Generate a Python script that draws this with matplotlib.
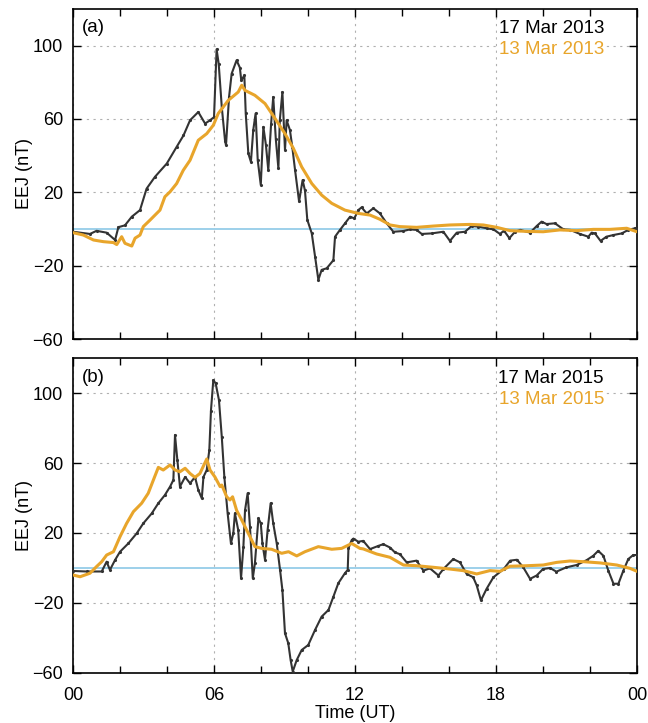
import numpy as np
import matplotlib.pyplot as plt
from matplotlib.ticker import MultipleLocator, FixedLocator

plt.rcParams['font.family'] = ['Liberation Sans', 'DejaVu Sans']
plt.rcParams['font.size'] = 13
plt.rcParams['axes.unicode_minus'] = True

# --- EEJ, março 2013 (dia perturbado e dia calmo) ---
t_a_pert = [0.0, 0.72, 1.0, 1.43, 1.79, 1.93, 2.21, 2.5, 2.85, 3.13, 3.49, 3.99, 4.41, 4.7, 4.98,
            5.33, 5.62, 5.83, 6.0, 6.11, 6.2, 6.33, 6.47, 6.51, 6.64, 6.75, 6.96, 7.1, 7.16, 7.29,
            7.35, 7.46, 7.57, 7.67, 7.77, 7.86, 7.99, 8.1, 8.21, 8.31, 8.43, 8.52, 8.63, 8.74, 8.8,
            8.91, 9.02, 9.09, 9.23, 9.33, 9.45, 9.62, 9.77, 9.87, 9.97, 10.16, 10.3, 10.44, 10.58,
            10.8, 11.08, 11.15, 11.36, 11.57, 11.79, 11.97, 12.14, 12.28, 12.5, 12.78, 13.06, 13.35,
            13.63, 14.06, 14.34, 14.62, 14.84, 15.26, 15.76, 16.04, 16.33, 16.68, 16.96, 17.25,
            17.6, 17.89, 18.17, 18.34, 18.57, 18.81, 19.03, 19.45, 19.73, 19.94, 20.15, 20.51,
            20.87, 21.16, 21.57, 21.93, 22.07, 22.21, 22.45, 22.7, 22.99, 23.35, 23.63, 23.91, 24.0]
eej_a_pert = [-1.5, -2.7, -1.0, -2.0, -6.0, 1.0, 2.0, 6.7, 10.3, 22.0, 28.5, 35.7, 44.8, 51.0, 59.3,
              63.8, 57.5, 59.3, 61.0, 98.0, 90.0, 66.5, 48.0, 45.7, 72.0, 84.7, 92.0, 88.0, 81.0, 83.8,
              63.0, 41.2, 36.6, 54.0, 63.0, 37.5, 24.0, 55.7, 45.7, 32.0, 57.5, 72.0, 49.0, 33.0, 59.3,
              74.7, 43.0, 59.3, 54.0, 44.8, 32.0, 15.0, 26.7, 21.0, 5.0, -2.4, -15.0, -27.7, -22.3,
              -21.4, -17.0, -4.2, -0.5, 3.0, 6.7, 5.8, 10.3, 11.8, 8.5, 11.3, 8.5, 3.1,
              -1.5, -1.1, -0.2, -0.5, -2.7, -2.4, -1.5, -6.5, -2.0, -1.5, 1.6, 1.3,
              0.4, -0.2, -2.7, -0.9, -5.0, -1.5, -0.5, -2.0, 1.6, 4.0, 2.7, 3.1,
              -0.2, -0.5, -2.7, -4.2, -2.0, -2.4, -6.5, -4.2, -3.3, -2.4, -0.5, 0.4, 0.0]

t_a_calmo = [0.0, 0.44, 0.87, 1.29, 1.72, 1.86, 2.07, 2.21, 2.5, 2.64, 2.85, 2.99, 3.28, 3.49, 3.7,
             3.91, 4.13, 4.41, 4.69, 4.98, 5.33, 5.69, 5.97, 6.18, 6.61, 7.03, 7.18, 7.32, 7.74,
             8.17, 8.6, 9.02, 9.38, 9.73, 10.16, 10.58, 11.01, 11.57, 12.14, 12.64, 13.06, 13.49,
             13.91, 14.62, 15.33, 16.04, 16.89, 17.46, 18.03, 18.6, 19.31, 20.01, 20.72, 21.43,
             22.14, 22.85, 23.56, 24.0]
eej_a_calmo = [-2.0, -3.3, -6.0, -6.9, -7.4, -8.5, -4.2, -7.8, -9.3, -5.0, -3.3, 1.3, 4.9, 7.6, 10.3,
               17.6, 20.3, 24.8, 32.0, 37.5, 48.4, 52.0, 56.6, 63.0, 70.2, 74.7, 78.4, 75.6, 72.9,
               68.4, 60.2, 52.0, 43.9, 33.9, 24.8, 18.5, 14.0, 10.3, 8.5, 7.6, 5.3, 2.2,
               1.3, 0.9, 1.6, 2.2, 2.5, 2.2, 0.9, -0.9, -1.3, -1.5, -0.5, -0.9,
               -0.2, -0.2, 0.4, -1.5]

# --- EEJ, março 2015 ---
t_b_pert = [0.0, 0.58, 1.22, 1.43, 1.57, 1.79, 2.0, 2.35, 2.71, 2.99, 3.35, 3.63, 3.91, 4.13, 4.27,
            4.34, 4.44, 4.55, 4.77, 4.98, 5.19, 5.33, 5.48, 5.55, 5.69, 5.8, 5.87, 5.97, 6.07,
            6.21, 6.33, 6.44, 6.58, 6.72, 6.82, 6.89, 7.03, 7.15, 7.25, 7.32, 7.43, 7.53, 7.65,
            7.74, 7.89, 7.99, 8.06, 8.17, 8.28, 8.41, 8.52, 8.67, 8.81, 8.91, 9.02, 9.16, 9.26,
            9.35, 9.52, 9.73, 10.01, 10.3, 10.58, 10.87, 11.08, 11.29, 11.57, 11.69, 11.72, 11.86,
            11.93, 12.14, 12.35, 12.64, 12.99, 13.2, 13.49, 13.7, 13.91, 14.2, 14.62, 14.91, 15.19,
            15.55, 15.76, 16.18, 16.47, 16.75, 17.03, 17.18, 17.36, 17.6, 17.89, 18.33, 18.6,
            18.89, 19.16, 19.45, 19.73, 20.0, 20.3, 20.57, 21.0, 21.43, 21.86, 22.14, 22.35, 22.57,
            22.78, 23.0, 23.21, 23.42, 23.63, 23.84, 24.0]
eej_b_pert = [-1.7, -2.0, -2.0, 3.6, -1.1, 4.6, 9.3, 14.0, 19.8, 25.5, 31.2, 37.0, 41.7, 46.5, 50.3,
              76.0, 61.7, 46.5, 52.0, 48.4, 52.0, 44.6, 39.8, 52.0, 56.0, 67.4, 90.0, 107.4, 105.5,
              96.0, 75.0, 52.0, 31.2, 14.0, 19.8, 31.2, 21.7, -5.9, 12.2, 33.0, 42.7, 23.6, -5.9,
              2.7, 28.4, 25.5, 14.0, 4.6, 21.7, 37.0, 25.5, 14.0, -1.1, -12.6, -37.3, -43.0, -52.6,
              -59.2, -52.6, -46.9, -44.0, -35.4, -27.8, -24.0, -16.4, -8.7, -3.0, -1.1, 11.2, 16.0,
              16.8, 15.0, 15.5, 10.8, 12.6, 13.6, 11.7, 8.9, 7.9, 3.2, 4.2, -1.5, -0.2,
              -4.3, -0.6, 5.1, 3.2, -3.4, -5.3, -10.0, -18.5, -11.9, -5.3, -0.6, 4.2,
              4.7, 0.4, -6.2, -4.3, -0.6, 0.0, -2.1, 0.4, 1.7, 4.5, 7.0, 9.8, 7.0,
              -1.5, -9.0, -9.0, -1.5, 5.1, 7.4, 7.4]

t_b_calmo = [0.0, 0.3, 0.72, 1.0, 1.22, 1.43, 1.72, 2.0, 2.28, 2.57, 2.92, 3.2, 3.42, 3.63, 3.84,
             4.13, 4.34, 4.55, 4.77, 4.98, 5.19, 5.4, 5.69, 5.83, 6.04, 6.26, 6.33, 6.54, 6.68,
             6.79, 6.96, 7.18, 7.46, 7.74, 8.03, 8.45, 8.88, 9.17, 9.52, 9.87, 10.44, 11.01,
             11.43, 11.86, 12.21, 12.35, 12.92, 13.49, 14.06, 14.62, 15.33, 16.04, 16.6, 17.18,
             17.74, 18.17, 18.6, 19.31, 20.01, 20.58, 21.15, 21.72, 22.43, 23.14, 23.7, 24.0]
eej_b_calmo = [-4.0, -5.0, -3.0, 0.8, 3.6, 7.4, 9.3, 17.9, 25.5, 32.2, 37.0, 42.7, 50.3, 57.5, 56.0,
               58.9, 56.0, 55.0, 57.0, 54.0, 51.8, 54.0, 62.3, 56.0, 52.0, 46.5, 47.4, 40.7, 38.9,
               40.7, 33.0, 27.4, 19.8, 12.2, 11.2, 10.7, 8.4, 9.3, 6.9, 9.3, 12.2, 10.7,
               11.2, 14.0, 11.2, 10.9, 8.0, 6.1, 1.7, 1.3, 0.4, -0.6, -1.5, -3.4,
               -1.5, -1.9, 1.0, 1.3, 1.7, 3.2, 4.0, 3.6, 2.9, 1.7, -0.2, -1.9]

paineis = [
    ('(a)', t_a_pert, eej_a_pert, t_a_calmo, eej_a_calmo, '17 Mar 2013', '13 Mar 2013'),
    ('(b)', t_b_pert, eej_b_pert, t_b_calmo, eej_b_calmo, '17 Mar 2015', '13 Mar 2015'),
]

cor_pert = '#333333'
cor_calmo = '#E8A52B'
cor_zero = '#8CC8E6'

fig = plt.figure(figsize=(6.48, 7.23), dpi=100)
pos = [[0.1127, 0.5311, 0.8703, 0.4565], [0.1127, 0.0692, 0.8703, 0.4356]]

for i, (rotulo, tp, yp, tc, yc, nome_p, nome_c) in enumerate(paineis):
    ax = fig.add_axes(pos[i])
    ax.axhline(0, color=cor_zero, lw=1.2, zorder=1)
    ax.plot(tp, yp, '-', color=cor_pert, lw=1.5, marker='.', ms=2.5, zorder=3)
    ax.plot(tc, yc, '-', color=cor_calmo, lw=2.2, zorder=4)

    ax.set_xlim(0, 24)
    ax.set_ylim(-60, 120)
    ax.xaxis.set_major_locator(FixedLocator([0, 6, 12, 18, 24]))
    ax.xaxis.set_minor_locator(MultipleLocator(2))
    ax.yaxis.set_major_locator(FixedLocator([-60, -20, 20, 60, 100]))
    ax.grid(True, which='major', color='#b0b0b0', ls=(0, (2, 4)), lw=0.8)
    ax.tick_params(which='both', direction='in', top=True, right=True, width=1)
    ax.tick_params(which='major', length=6, labelsize=13)
    ax.tick_params(axis='x', which='major', pad=10)
    ax.tick_params(axis='y', which='major', pad=7)
    ax.tick_params(which='minor', length=5)
    for s in ax.spines.values():
        s.set_linewidth(1.2)

    if i == 0:
        ax.set_xticklabels([])
    else:
        ax.set_xticklabels(['00', '06', '12', '18', '00'])
        ax.set_xlabel('Time (UT)', fontsize=13, labelpad=1)
    ax.set_ylabel('EEJ (nT)', fontsize=13, labelpad=0)

    # legenda em texto no canto, com fundo branco por cima da grade
    caixa = dict(facecolor='white', edgecolor='none', pad=1)
    ax.annotate(rotulo, xy=(0.016, 1), xycoords='axes fraction', xytext=(0, -19),
                textcoords='offset pixels', ha='left', va='center', fontsize=13.5)
    ax.annotate(nome_p, xy=(0.9415, 1), xycoords='axes fraction', xytext=(0, -20),
                textcoords='offset pixels', ha='right', va='center', fontsize=13.5,
                color='black', bbox=caixa, zorder=6)
    ax.annotate(nome_c, xy=(0.9415, 1), xycoords='axes fraction', xytext=(0, -41),
                textcoords='offset pixels', ha='right', va='center', fontsize=13.5,
                color=cor_calmo, bbox=caixa, zorder=6)

fig.savefig('out.png', dpi=100)
